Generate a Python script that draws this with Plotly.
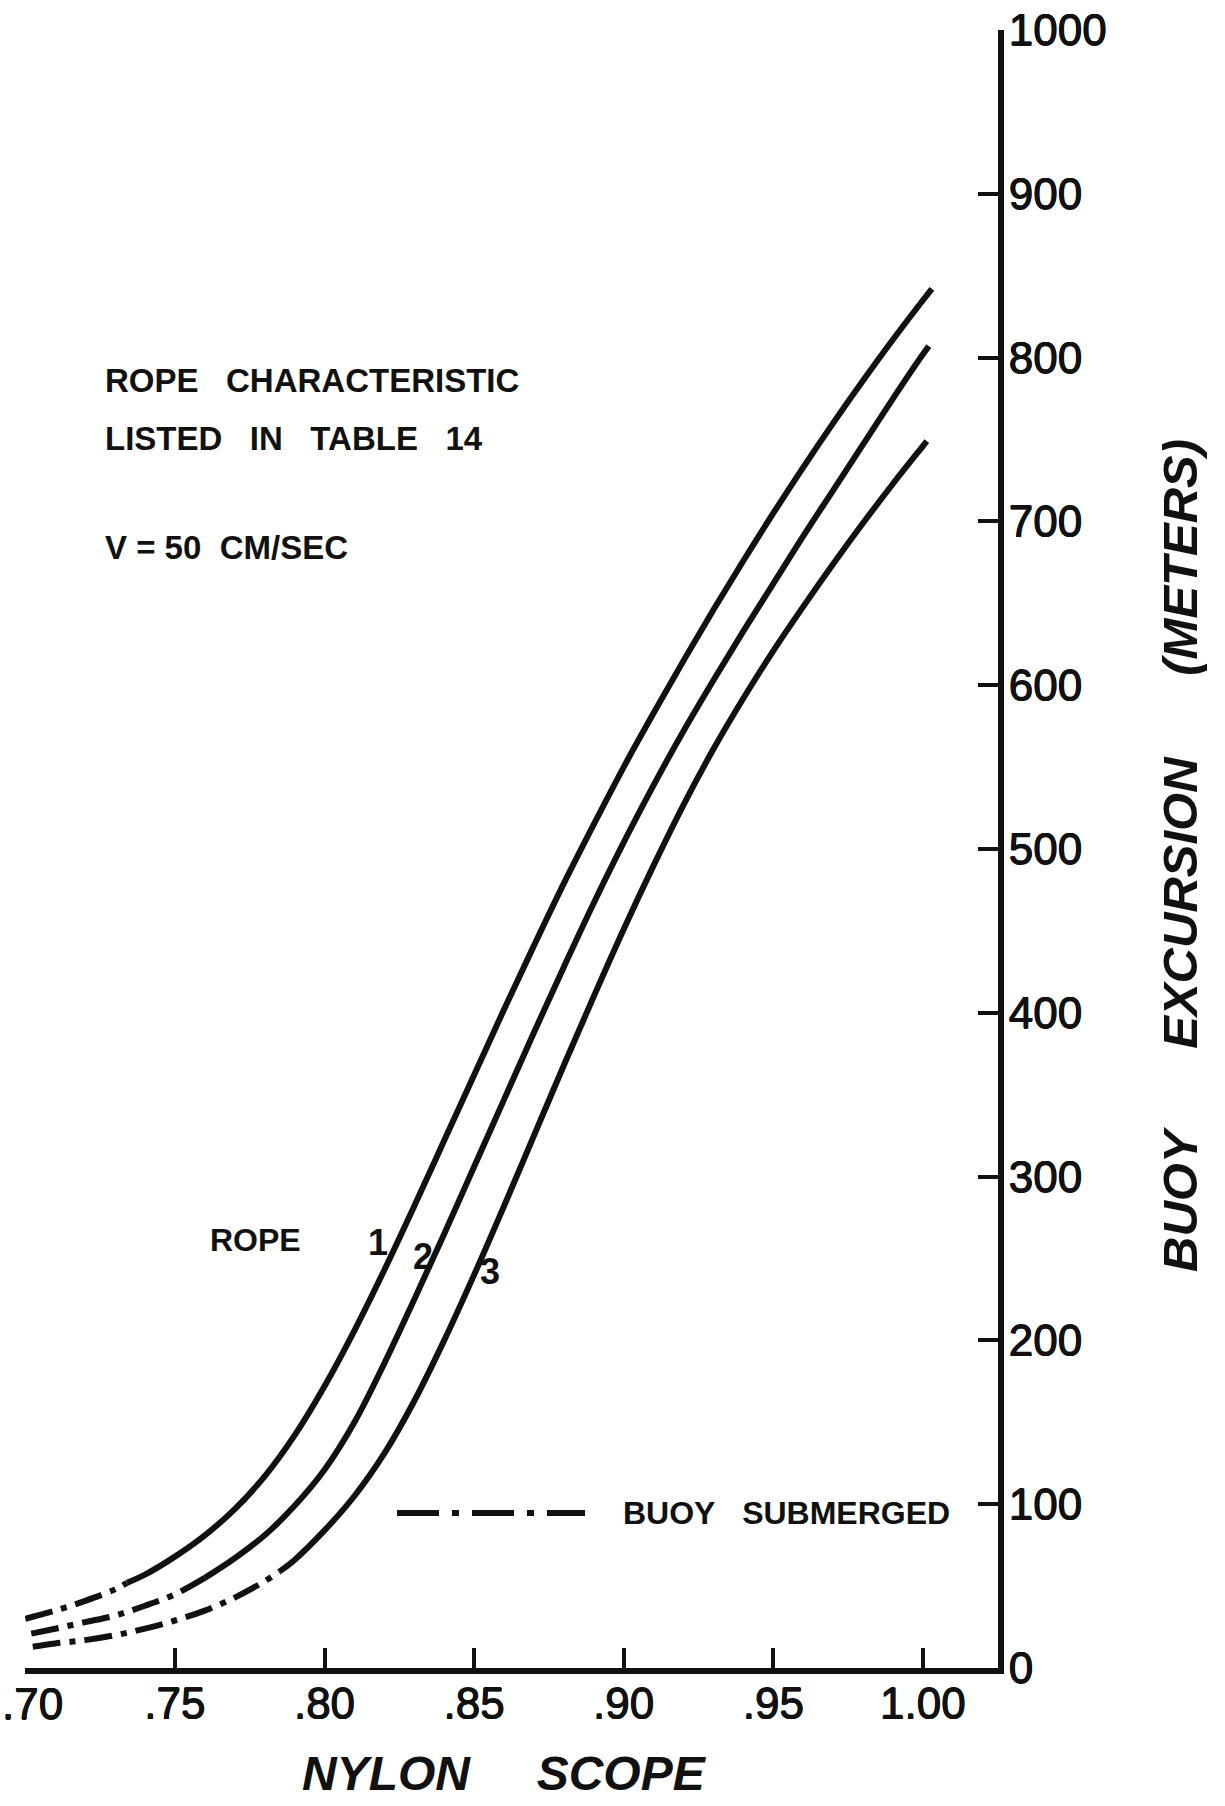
import plotly.graph_objects as go

# ---------------------------------------------------------------- data
# Nylon scope (fraction) versus buoy excursion (metres) for three ropes
rope1_scope = [0.700, 0.710, 0.720, 0.730, 0.734, 0.740, 0.750, 0.760, 0.770, 0.780,
               0.790, 0.800, 0.810, 0.820, 0.830, 0.840, 0.850, 0.860, 0.870, 0.880,
               0.890, 0.900, 0.910, 0.920, 0.930, 0.940, 0.950, 0.960, 0.970, 0.980,
               0.990, 1.000, 1.003]
rope1_excursion = [30, 35, 41, 48, 52, 57, 68, 81, 97, 117,
                   142, 172, 206, 243, 282, 322, 362, 402, 441, 479,
                   515, 550, 583, 615, 646, 676, 705, 733, 760, 786,
                   811, 835, 842]

rope2_scope = [0.702, 0.710, 0.720, 0.730, 0.740, 0.750, 0.760, 0.770, 0.780, 0.790,
               0.800, 0.810, 0.820, 0.830, 0.840, 0.850, 0.860, 0.870, 0.880, 0.890,
               0.900, 0.910, 0.920, 0.930, 0.940, 0.950, 0.960, 0.970, 0.980, 0.990,
               1.000, 1.002]
rope2_excursion = [21, 24, 28, 32, 38, 45, 55, 67, 81, 99,
                   121, 150, 186, 225, 265, 306, 347, 388, 428, 467,
                   504, 539, 572, 603, 633, 662, 691, 719, 747, 775,
                   802, 807]

rope3_scope = [0.7025, 0.710, 0.720, 0.730, 0.740, 0.750, 0.760, 0.770, 0.780, 0.785,
               0.790, 0.800, 0.810, 0.820, 0.830, 0.840, 0.850, 0.860, 0.870, 0.880,
               0.890, 0.900, 0.910, 0.920, 0.930, 0.940, 0.950, 0.960, 0.970, 0.980,
               0.990, 1.000, 1.0013]
rope3_excursion = [13, 15, 17, 20, 24, 29, 35, 43, 53, 59,
                   66, 84, 105, 131, 163, 200, 240, 282, 325, 368,
                   410, 451, 490, 527, 561, 592, 621, 648, 674, 699,
                   723, 746, 749]

# scope below which the buoy rides submerged (dash-dot part of each curve)
submerged_until = [0.734, 0.760, 0.785]

x_tick_vals = [0.70, 0.75, 0.80, 0.85, 0.90, 0.95, 1.00]
x_tick_text = [".70", ".75", ".80", ".85", ".90", ".95", "1.00"]
y_tick_vals = [0, 100, 200, 300, 400, 500, 600, 700, 800, 900, 1000]
y_tick_text = ["0", "100", "200", "300", "400", "500", "600", "700", "800", "900", "1000"]

# ---------------------------------------------------------------- layout
W, H = 1225, 1806
ML, MR, MT, MB = 25, 227, 30, 138
FONT = "Liberation Sans, Arial, sans-serif"
INK = "#111111"
LINE_W = 6
CURVE_DASH = "28px,9px,6px,9px"
KEY_DASH = "42px,13px,7px,13px"
THICKEN = "0.5px 0 0 #111111, -0.5px 0 0 #111111, 0 0.5px 0 #111111, 0 -0.5px 0 #111111"
TICK_SIZE = 44

plot_w = W - ML - MR
plot_h = H - MT - MB


def px(x):
    """page pixel x -> paper x"""
    return (x - ML) / plot_w


def py(y):
    """page pixel y -> paper y"""
    return (H - MB - y) / plot_h


fig = go.Figure()

ropes = [
    (rope1_scope, rope1_excursion),
    (rope2_scope, rope2_excursion),
    (rope3_scope, rope3_excursion),
]
for (xs, ys), limit in zip(ropes, submerged_until):
    sub_x = [x for x in xs if x <= limit]
    sub_y = [y for x, y in zip(xs, ys) if x <= limit]
    surf_x = [x for x in xs if x >= limit]
    surf_y = [y for x, y in zip(xs, ys) if x >= limit]
    fig.add_trace(go.Scatter(
        x=sub_x, y=sub_y, mode="lines", showlegend=False, hoverinfo="skip",
        line=dict(color=INK, width=LINE_W, dash=CURVE_DASH, shape="spline")))
    fig.add_trace(go.Scatter(
        x=surf_x, y=surf_y, mode="lines", showlegend=False, hoverinfo="skip",
        line=dict(color=INK, width=LINE_W, shape="spline")))

axis_common = dict(
    showgrid=False, zeroline=False, showline=True, linecolor=INK, linewidth=LINE_W,
    ticks="inside", ticklen=20, tickwidth=4, tickcolor=INK,
    automargin=False,
    tickfont=dict(family=FONT, size=TICK_SIZE, color=INK, shadow=THICKEN),
)

# the first scope label sits at the page edge, so it is set as free text
# flush with the left border instead of centred under its tick
x_ticktext_drawn = [""] + x_tick_text[1:]

fig.update_layout(
    width=W, height=H,
    margin=dict(l=ML, r=MR, t=MT, b=MB, pad=0, autoexpand=False),
    paper_bgcolor="white", plot_bgcolor="white",
    showlegend=False,
    xaxis=dict(range=[0.6999, 1.0251], tickmode="array", tickvals=x_tick_vals,
               ticktext=x_ticktext_drawn, ticklabelstandoff=-8, **axis_common),
    yaxis=dict(range=[0, 1000], side="right", tickmode="array", tickvals=y_tick_vals,
               ticktext=y_tick_text, ticklabelstandoff=-4, **axis_common),
)

annotations = []


def label(text, x, y, size=33, anchor="left", style="normal", weight="bold", angle=0,
          shadow=None):
    font = dict(family=FONT, size=size, color=INK, style=style, weight=weight)
    if shadow:
        font["shadow"] = shadow
    annotations.append(dict(
        text=text, xref="paper", yref="paper", x=px(x), y=py(y),
        xanchor=anchor, yanchor="middle", showarrow=False, textangle=angle,
        font=font))


NB = "\u00a0"
label(x_tick_text[0], 0, 1704, size=TICK_SIZE, weight="normal", shadow=THICKEN)

label("ROPE" + NB * 3 + "CHARACTERISTIC", 103, 380)
label("LISTED" + NB * 3 + "IN" + NB * 3 + "TABLE" + NB * 3 + "14", 103, 438)
label("V = 50" + NB * 2 + "CM/SEC", 103, 547)

label("ROPE", 208, 1240, size=32)
label("1", 378, 1242, size=36, anchor="center")
label("2", 423, 1256, size=36, anchor="center")
label("3", 490, 1271, size=36, anchor="center")

label("BUOY" + NB * 3 + "SUBMERGED", 621, 1513, size=32)

label("NYLON" + NB * 5 + "SCOPE", 504, 1773, size=48, anchor="center", style="italic")
label("BUOY" + NB * 6 + "EXCURSION" + NB * 6 + "(METERS)", 1180, 856, size=49,
      anchor="center", style="italic", angle=-90)

fig.update_layout(annotations=annotations)

# key sample for the dash-dot style
fig.add_shape(type="line", xref="paper", yref="paper",
              x0=px(397), x1=px(585), y0=py(1513), y1=py(1513),
              line=dict(color=INK, width=LINE_W, dash=KEY_DASH))

fig.write_html("out.html")
